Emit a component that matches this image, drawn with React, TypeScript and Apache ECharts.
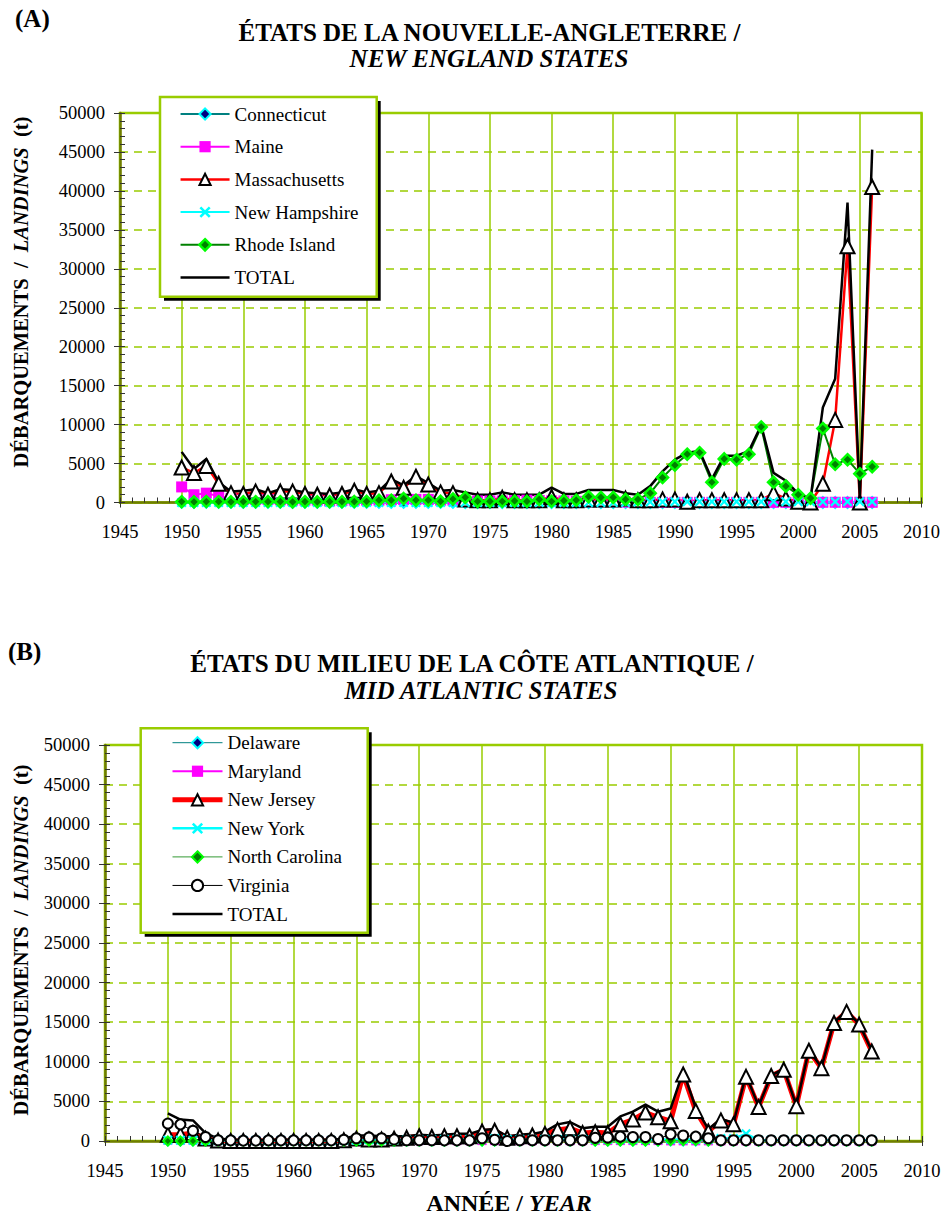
import React, { useEffect, useRef } from 'react';
import * as echarts from 'echarts';

// Years covered by both panels
const YEARS = [
  1950, 1951, 1952, 1953, 1954, 1955, 1956, 1957, 1958, 1959,
  1960, 1961, 1962, 1963, 1964, 1965, 1966, 1967, 1968, 1969,
  1970, 1971, 1972, 1973, 1974, 1975, 1976, 1977, 1978, 1979,
  1980, 1981, 1982, 1983, 1984, 1985, 1986, 1987, 1988, 1989,
  1990, 1991, 1992, 1993, 1994, 1995, 1996, 1997, 1998, 1999,
  2000, 2001, 2002, 2003, 2004, 2005, 2006,
];

// (A) New England states — landings (t)
const CONNECTICUT = [
  30, 20, 20, 10, 10, 10, 10, 10, 10, 10,
  10, 10, 10, 10, 10, 10, 10, 10, 10, 10,
  10, 10, 10, 0, 0, 0, 0, 0, 0, 0,
  0, 0, 0, 0, 0, 0, 0, 0, 0, 0,
  0, 0, 0, 0, 0, 0, 0, 0, 0, 0,
  0, 0, 0, 0, 0, 0, 0,
];
const MAINE = [
  2000, 1000, 1200, 800, 500, 400, 400, 400, 350, 300,
  300, 300, 200, 250, 300, 300, 300, 350, 400, 400,
  400, 300, 300, 200, 200, 200, 200, 250, 300, 250,
  200, 200, 150, 100, 100, 100, 50, 20, 20, 20,
  20, 20, 20, 20, 20, 20, 20, 20, 20, 20,
  20, 20, 30, 30, 30, 30, 30,
];
const MASSACHUSETTS = [
  4500, 3800, 4700, 2400, 1200, 1100, 1400, 1000, 1400, 1400,
  1100, 1000, 900, 1100, 1500, 1100, 1200, 2700, 1900, 3300,
  2300, 1300, 1200, 400, 300, 300, 600, 300, 300, 300,
  700, 300, 300, 400, 400, 400, 500, 300, 300, 400,
  400, 100, 300, 300, 300, 300, 300, 300, 1200, 500,
  100, 0, 2400, 10600, 32900, 0, 40500,
];
const NEW_HAMPSHIRE = [
  0, 0, 0, 0, 0, 0, 0, 0, 0, 0,
  0, 0, 0, 0, 0, 0, 0, 0, 0, 0,
  0, 0, 0, 0, 0, 0, 0, 0, 0, 0,
  0, 0, 0, 0, 0, 0, 0, 50, 80, 80,
  100, 100, 100, 100, 100, 100, 100, 100, 100, 100,
  100, 100, 100, 100, 100, 100, 100,
];
const RHODE_ISLAND = [
  100, 80, 120, 100, 90, 110, 100, 120, 100, 80,
  100, 90, 100, 110, 120, 150, 300, 300, 500, 300,
  300, 150, 450, 650, 130, 130, 150, 200, 150, 400,
  150, 250, 300, 750, 650, 650, 400, 400, 1200, 3200,
  4800, 6200, 6400, 2600, 5600, 5500, 6200, 9700, 2600, 2100,
  1000, 550, 9500, 4900, 5500, 3700, 4600,
];
const TOTAL_NE = [
  6500, 4300, 5600, 2600, 1400, 1500, 1700, 1200, 1700, 1600,
  1300, 1200, 1100, 1300, 1700, 1300, 1500, 3000, 2200, 3400,
  2500, 1500, 1600, 1300, 1000, 1000, 1300, 1000, 1000, 1000,
  1900, 1100, 1100, 1600, 1600, 1600, 1200, 1000, 2100, 4000,
  5500, 6400, 6600, 3000, 6000, 6000, 6600, 9900, 3800, 2800,
  1100, 500, 12200, 15900, 38500, 500, 45300,
];

// (B) Mid Atlantic states — landings (t)
const DELAWARE = [
  0, 0, 0, 0, 0, 0, 0, 0, 0, 0,
  0, 0, 0, 0, 0, 0, 0, 0, 0, 0,
  0, 0, 0, 0, 0, 0, 0, 0, 0, 0,
  0, 0, 0, 0, 0, 0, 0, 0, 0, 0,
  0, 0, 0, 0, 0, 0, 0, 0, 0, 0,
  0, 0, 0, 0, 0, 0, 0,
];
const MARYLAND = [
  100, 100, 100, 50, 50, 50, 50, 50, 50, 50,
  50, 50, 50, 50, 50, 50, 50, 50, 50, 50,
  50, 50, 50, 50, 50, 50, 50, 50, 50, 50,
  50, 50, 50, 50, 50, 50, 50, 50, 50, 50,
  20, 20, 20, 20, 20, 20, 20, 20, 20, 20,
  20, 20, 20, 20, 20, 20, 20,
];
const NEW_JERSEY = [
  800, 800, 1000, 300, 50, 0, 0, 0, 0, 0,
  0, 0, 0, 0, 100, 300, 200, 200, 300, 400,
  600, 500, 600, 600, 600, 1200, 1300, 400, 600, 700,
  900, 1400, 1600, 1000, 1100, 1000, 2100, 2700, 3600, 3000,
  2500, 8400, 3800, 1200, 2600, 2100, 8100, 4300, 8200, 9000,
  4400, 11400, 9200, 14900, 16300, 14700, 11300,
];
const NEW_YORK = [
  100, 100, 100, 50, 50, 50, 50, 50, 50, 50,
  50, 50, 50, 50, 100, 100, 150, 150, 150, 150,
  150, 200, 200, 200, 200, 300, 300, 200, 200, 200,
  200, 200, 200, 200, 200, 200, 200, 200, 200, 200,
  200, 200, 200, 200, 300, 300, 900, 100, 100, 100,
  100, 100, 100, 100, 100, 100, 100,
];
const NORTH_CAROLINA = [
  0, 0, 0, 0, 0, 0, 0, 0, 0, 0,
  0, 0, 0, 0, 0, 0, 0, 0, 0, 0,
  0, 0, 0, 0, 0, 0, 0, 0, 0, 0,
  0, 0, 0, 0, 0, 0, 0, 0, 0, 0,
  50, 50, 50, 0, 0, 0, 0, 0, 0, 0,
  0, 0, 0, 0, 0, 0, 0,
];
const VIRGINIA = [
  2200, 2100, 1300, 500, 100, 80, 50, 50, 80, 80,
  80, 80, 80, 80, 150, 350, 450, 350, 200, 100,
  100, 100, 80, 80, 80, 350, 150, 0, 100, 100,
  100, 100, 100, 100, 400, 450, 550, 500, 500, 250,
  850, 700, 550, 350, 100, 100, 100, 100, 100, 100,
  100, 100, 100, 100, 100, 100, 100,
];
const TOTAL_MA = [
  3500, 2700, 2600, 1000, 300, 200, 100, 100, 150, 150,
  150, 150, 150, 150, 300, 700, 700, 600, 600, 600,
  800, 700, 800, 900, 900, 1400, 1500, 600, 800, 900,
  1200, 2100, 2400, 1600, 1800, 1800, 3100, 3700, 4600, 3700,
  4100, 8800, 4200, 1500, 2800, 2300, 8300, 4400, 8300, 9100,
  4500, 11500, 9300, 15000, 16400, 14800, 11400,
];

const FONT = 'Liberation Serif, Times New Roman, serif';
const GRID_GREEN = '#99cc00';
const AXIS_OLIVE = '#6f7d00';
const TICK_DARK = '#333333';
const X_SYMBOL =
  'path://M0,1.6L1.6,0L5,3.4L8.4,0L10,1.6L6.6,5L10,8.4L8.4,10L5,6.6L1.6,10L0,8.4L3.4,5Z';
const BAR_ICON = 'path://M0,0H50V2.5H0Z';

const pairs = (values: number[]) => YEARS.map((y, i) => [y, values[i]]);

function lineSeries(
  name: string,
  values: number[],
  axis: number,
  color: string,
  width: number,
  symbol: string,
  size: number,
  itemStyle: Record<string, unknown>
) {
  return {
    type: 'line',
    name,
    xAxisIndex: axis,
    yAxisIndex: axis,
    data: pairs(values),
    symbol,
    symbolSize: size,
    showSymbol: symbol !== 'none',
    lineStyle: { color, width },
    itemStyle,
    emphasis: { disabled: true },
    silent: true,
  };
}

function axesFor(grid: number) {
  const tickLabel = {
    color: '#000',
    fontFamily: FONT,
    fontSize: 18.5,
    formatter: (v: number) => String(v),
  };
  const x = [
    {
      gridIndex: grid,
      type: 'value',
      min: 1945,
      max: 2010,
      interval: 5,
      axisLine: { show: true, onZero: false, lineStyle: { color: AXIS_OLIVE, width: 2.5 } },
      axisTick: { show: true, inside: true, length: 5, lineStyle: { color: TICK_DARK, width: 1 } },
      minorTick: { show: true, splitNumber: 5, length: 5, lineStyle: { color: TICK_DARK, width: 1 } },
      splitLine: { show: true, lineStyle: { color: GRID_GREEN, width: 1.5 } },
      axisLabel: { ...tickLabel, margin: 20 },
    },
    {
      gridIndex: grid,
      type: 'value',
      position: 'bottom',
      min: 1945,
      max: 2010,
      interval: 5,
      axisLine: { show: false },
      axisTick: { show: true, inside: false, length: 5, lineStyle: { color: TICK_DARK, width: 1 } },
      axisLabel: { show: false },
      splitLine: { show: false },
    },
  ];
  const y = [
    {
      gridIndex: grid,
      type: 'value',
      min: 0,
      max: 50000,
      interval: 5000,
      axisLine: { show: true, lineStyle: { color: AXIS_OLIVE, width: 2.5 } },
      axisTick: { show: true, inside: true, length: 5, lineStyle: { color: TICK_DARK, width: 1 } },
      minorTick: { show: true, splitNumber: 5, length: 5, lineStyle: { color: TICK_DARK, width: 1 } },
      splitLine: { show: true, lineStyle: { color: GRID_GREEN, width: 1.5, type: [8, 6] } },
      axisLabel: { ...tickLabel, margin: 15 },
    },
    {
      gridIndex: grid,
      type: 'value',
      position: 'left',
      min: 0,
      max: 50000,
      interval: 5000,
      axisLine: { show: false },
      axisTick: { show: true, inside: false, length: 6, lineStyle: { color: TICK_DARK, width: 1 } },
      axisLabel: { show: false },
      splitLine: { show: false },
    },
  ];
  return { x, y };
}

function legendBox(x: number, y: number, w: number, h: number) {
  return [
    { type: 'rect', z: 5, shape: { x: x + 4, y: y + 4, width: w, height: h }, style: { fill: '#000' }, silent: true },
    {
      type: 'rect',
      z: 6,
      shape: { x, y, width: w, height: h },
      style: { fill: '#fff', stroke: GRID_GREEN, lineWidth: 2.5 },
      silent: true,
    },
  ];
}

function richText(x: number, y: number, text: string, size: number, rotation = 0) {
  const base = { fontFamily: FONT, fontSize: size, fontWeight: 'bold', fill: '#000', color: '#000' };
  return {
    type: 'text',
    x,
    y,
    rotation,
    z: 7,
    silent: true,
    style: {
      text,
      rich: {
        b: { ...base },
        bi: { ...base, fontStyle: 'italic' },
      },
      align: 'center',
      verticalAlign: 'middle',
      textAlign: 'center',
      textVerticalAlign: 'middle',
    },
  };
}

function plainText(x: number, y: number, text: string, size: number, italic = false, align = 'center') {
  return {
    type: 'text',
    x,
    y,
    z: 7,
    silent: true,
    style: {
      text,
      fontFamily: FONT,
      fontSize: size,
      fontWeight: 'bold',
      fontStyle: italic ? 'italic' : 'normal',
      fill: '#000',
      align,
      verticalAlign: 'middle',
      textAlign: align,
      textVerticalAlign: 'middle',
    },
  };
}

function buildOption() {
  const top = axesFor(0);
  const bottom = axesFor(1);

  const neSeries = [
    lineSeries('Connecticut', CONNECTICUT, 0, '#008080', 2, 'diamond', 11, {
      color: '#000080', borderColor: '#00ffff', borderWidth: 2,
    }),
    lineSeries('Maine', MAINE, 0, '#ff00ff', 2, 'rect', 11, { color: '#ff00ff' }),
    lineSeries('Massachusetts', MASSACHUSETTS, 0, '#ff0000', 2.5, 'triangle', 14, {
      color: '#ffffff', borderColor: '#000000', borderWidth: 2,
    }),
    lineSeries('New Hampshire', NEW_HAMPSHIRE, 0, '#00ffff', 2, X_SYMBOL, 10, { color: '#00ffff' }),
    lineSeries('Rhode Island', RHODE_ISLAND, 0, '#008000', 2, 'diamond', 11, {
      color: '#008000', borderColor: '#00ff00', borderWidth: 2.5,
    }),
    lineSeries('TOTAL', TOTAL_NE, 0, '#000000', 2.5, 'none', 0, { color: '#000000' }),
  ];

  const maSeries = [
    lineSeries('Delaware', DELAWARE, 2, '#008080', 1, 'diamond', 9, {
      color: '#000080', borderColor: '#00ffff', borderWidth: 2,
    }),
    lineSeries('Maryland', MARYLAND, 2, '#ff00ff', 2, 'rect', 9, { color: '#ff00ff' }),
    lineSeries('New Jersey', NEW_JERSEY, 2, '#ff0000', 5, 'triangle', 14, {
      color: '#ffffff', borderColor: '#000000', borderWidth: 2,
    }),
    lineSeries('New York', NEW_YORK, 2, '#00ffff', 2.5, X_SYMBOL, 10, { color: '#00ffff' }),
    lineSeries('North Carolina', NORTH_CAROLINA, 2, '#339933', 1, 'diamond', 9, {
      color: '#008000', borderColor: '#00ff00', borderWidth: 2,
    }),
    lineSeries('Virginia', VIRGINIA, 2, '#000000', 1, 'circle', 10, {
      color: '#ffffff', borderColor: '#000000', borderWidth: 2,
    }),
    lineSeries('TOTAL', TOTAL_MA, 2, '#000000', 2.5, 'none', 0, { color: '#000000' }),
  ];

  const legendText = { fontFamily: FONT, fontSize: 19, color: '#000', lineHeight: 20 };
  const legendCommon = {
    orient: 'vertical',
    padding: 0,
    itemHeight: 14,
    selectedMode: false,
    textStyle: legendText,
    lineStyle: { width: 'inherit' },
    itemStyle: { borderWidth: 'inherit' },
    z: 10,
  };

  return {
    animation: false,
    backgroundColor: '#ffffff',
    textStyle: { fontFamily: FONT },
    grid: [
      { left: 120, top: 113, right: 24.5, height: 389.5, show: true, borderColor: GRID_GREEN, borderWidth: 2.5, backgroundColor: '#fff' },
      { left: 105, top: 745, right: 24, height: 396, show: true, borderColor: GRID_GREEN, borderWidth: 2.5, backgroundColor: '#fff' },
    ],
    xAxis: [...top.x, ...bottom.x],
    yAxis: [...top.y, ...bottom.y],
    legend: [
      {
        ...legendCommon,
        left: 179.3,
        top: 104,
        itemWidth: 49,
        itemGap: 12.7,
        data: [
          'Connecticut', 'Maine', 'Massachusetts', 'New Hampshire', 'Rhode Island',
          { name: 'TOTAL', icon: BAR_ICON },
        ],
      },
      {
        ...legendCommon,
        left: 170,
        top: 732.7,
        itemWidth: 50,
        itemGap: 8.55,
        data: [
          'Delaware', 'Maryland', 'New Jersey', 'New York', 'North Carolina', 'Virginia',
          { name: 'TOTAL', icon: BAR_ICON },
        ],
      },
    ],
    graphic: {
      elements: [
        ...legendBox(160, 97, 216.7, 199.7),
        ...legendBox(140.7, 728.3, 227, 204.4),
        plainText(15, 18, '(A)', 25, false, 'left'),
        plainText(489.5, 32, 'ÉTATS DE LA NOUVELLE-ANGLETERRE /', 25),
        plainText(489, 58, 'NEW ENGLAND STATES', 25, true),
        plainText(8, 651, '(B)', 25, false, 'left'),
        plainText(472, 663, 'ÉTATS DU MILIEU DE LA CÔTE ATLANTIQUE /', 25),
        plainText(481, 690, 'MID ATLANTIC STATES', 25, true),
        richText(21, 292, '{b|DÉBARQUEMENTS  /  }{bi|LANDINGS}{b|  (t)}', 20.5, Math.PI / 2),
        richText(21, 940, '{b|DÉBARQUEMENTS  /  }{bi|LANDINGS}{b|  (t)}', 20.5, Math.PI / 2),
        richText(509, 1203, '{b|ANNÉE / }{bi|YEAR}', 24),
      ],
    },
    series: [...neSeries, ...maSeries],
  };
}

export default function App() {
  const ref = useRef<HTMLDivElement>(null);

  useEffect(() => {
    document.body.style.margin = '0';
    if (!ref.current) return;
    const chart = echarts.init(ref.current, undefined, { renderer: 'svg' });
    chart.setOption(buildOption() as any);
    return () => chart.dispose();
  }, []);

  return (
    <div
      ref={ref}
      style={{ position: 'absolute', left: 0, top: 0, width: 946, height: 1218, background: '#fff' }}
    />
  );
}
